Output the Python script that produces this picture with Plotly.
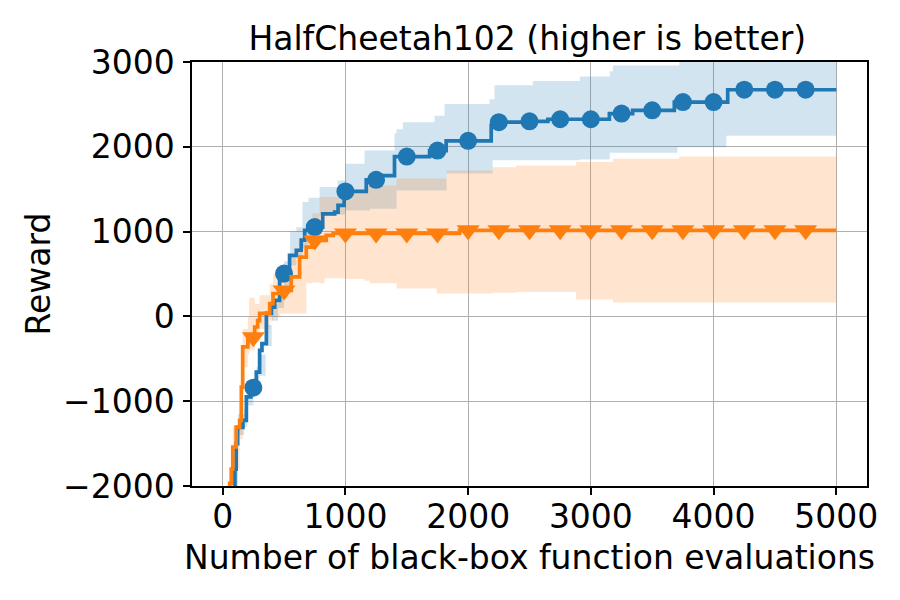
import numpy as np
import plotly.graph_objects as go

# ---- data ----
blue_x = [60, 90, 100, 110, 122, 165, 193, 230, 274, 301, 320, 356, 397, 424, 464, 490,
          545, 600, 640, 668, 700, 815, 912, 940, 990, 1170, 1300, 1400, 1686, 1821,
          2188, 2200, 2450, 2650, 3151, 3340, 3680, 4115, 5000]
blue_y = [-2600, -2300, -1800, -1500, -1310, -1226, -950, -840, -657, -400, -320, 35, 110, 190, 425, 505,
          720, 780, 900, 1015, 1053, 1210, 1230, 1310, 1474, 1610, 1660, 1885, 1955, 2070,
          2250, 2290, 2300, 2325, 2392, 2430, 2527, 2673, 2673]

orange_x = [40, 57, 70, 82, 110, 138, 152, 163, 205, 261, 285, 301, 383, 410, 470, 559,
            627, 681, 730, 844, 900, 1930, 5000]
orange_y = [-2600, -1970, -1800, -1540, -1305, -1225, -834, -360, -245, -125, -50, 35, 150, 270, 306, 465,
            700, 818, 896, 955, 978, 1015, 1015]

blue_band_x = [75, 100, 125, 175, 200, 250, 275, 300, 350, 400, 450, 500, 550, 600, 650, 700,
               790, 936, 1000, 1156, 1200, 1400, 1417, 1468, 1726, 1808, 1824, 2174, 2200, 2215,
               2527, 2910, 3154, 3180, 3705, 3720, 4104, 5000]
blue_band_lo = [-2700, -2100, -1400, -1300, -1050, -920, -800, -700, -350, -50, 100, 350, 600, 700, 800, 950,
                1190, 1200, 1250, 1250, 1270, 1270, 1485, 1485, 1485, 1485, 1685, 1685, 1840, 1840,
                1840, 1850, 1930, 1930, 1995, 1995, 2130, 2130]
blue_band_hi = [-2400, -1800, -1150, -1100, -850, -760, -600, -450, -100, 150, 300, 650, 1000, 1050, 1350, 1400,
                1525, 1604, 1800, 1957, 1957, 2158, 2208, 2290, 2365, 2505, 2505, 2560, 2560, 2725,
                2775, 2830, 2890, 2960, 2960, 3200, 3200, 3200]

orange_band_x = [50, 57, 82, 138, 163, 205, 215, 261, 301, 383, 410, 470, 559, 600, 627, 681,
                 730, 790, 830, 1000, 1156, 1200, 1417, 1743, 1824, 2200, 2390, 2880, 3180, 3720, 5000]
orange_band_lo = [-2800, -2300, -1800, -1450, -600, -450, -400, -300, -150, -50, 0, 35, 35, 35, 35, 390,
                  400, 390, 450, 440, 420, 390, 330, 270, 270, 280, 287, 200, 165, 165, 165]
orange_band_hi = [-2300, -1900, -1300, -1000, -150, 0, 220, 150, 250, 380, 500, 550, 700, 800, 900, 1050,
                  1215, 1407, 1407, 1485, 1545, 1545, 1625, 1625, 1720, 1760, 1780, 1820, 1860, 1885, 1885]

marker_x = [250, 500, 750, 1000, 1250, 1500, 1750, 2000, 2250, 2500, 2750, 3000, 3250, 3500,
            3750, 4000, 4250, 4500, 4750]

x_ticks = [0, 1000, 2000, 3000, 4000, 5000]
y_ticks = [-2000, -1000, 0, 1000, 2000, 3000]
y_tick_text = ["\u22122000", "\u22121000", "0", "1000", "2000", "3000"]

BLUE = "#1f77b4"
ORANGE = "#ff7f0e"
FONT = "DejaVu Sans"
FS = 33


def step_lookup(xs, ys, q):
    xs = np.asarray(xs)
    ys = np.asarray(ys)
    idx = np.searchsorted(xs, q, side="right") - 1
    return ys[idx]


fig = go.Figure()

# bands
for bx, lo, hi, col in [(blue_band_x, blue_band_lo, blue_band_hi, "rgba(31,119,180,0.2)"),
                        (orange_band_x, orange_band_lo, orange_band_hi, "rgba(255,127,14,0.2)")]:
    fig.add_trace(go.Scatter(x=bx, y=lo, mode="lines", line=dict(width=0, shape="hv"),
                             hoverinfo="skip", showlegend=False))
    fig.add_trace(go.Scatter(x=bx, y=hi, mode="lines", line=dict(width=0, shape="hv"),
                             fill="tonexty", fillcolor=col, hoverinfo="skip", showlegend=False))

# lines
fig.add_trace(go.Scatter(x=blue_x, y=blue_y, mode="lines",
                         line=dict(color=BLUE, width=3.7, shape="hv"), showlegend=False))
fig.add_trace(go.Scatter(x=marker_x, y=step_lookup(blue_x, blue_y, marker_x), mode="markers",
                         marker=dict(color=BLUE, size=18, symbol="circle"), showlegend=False))
fig.add_trace(go.Scatter(x=orange_x, y=orange_y, mode="lines",
                         line=dict(color=ORANGE, width=3.7, shape="hv"), showlegend=False))
fig.add_trace(go.Scatter(x=marker_x, y=step_lookup(orange_x, orange_y, marker_x), mode="markers",
                         marker=dict(color=ORANGE, size=20, symbol="triangle-down"), showlegend=False))

axis_common = dict(showline=True, mirror=True, linecolor="black", linewidth=1.5,
                   ticks="outside", ticklen=7, tickwidth=1.5, tickcolor="black",
                   showgrid=True, gridcolor="#b0b0b0", gridwidth=1.3, zeroline=False,
                   tickfont=dict(family=FONT, size=FS, color="black"))

fig.update_layout(
    width=900, height=600,
    paper_bgcolor="white", plot_bgcolor="white",
    margin=dict(l=184, r=41, t=54, b=122),
    title=dict(text="HalfCheetah102 (higher is better)", x=0.577, xanchor="center",
               y=0.95, yanchor="middle",
               font=dict(family=FONT, size=FS, color="black")),
    xaxis=dict(range=[-250, 5250], tickvals=x_ticks, ticklabelstandoff=-6,
               **axis_common),
    yaxis=dict(range=[-2000, 3000], tickvals=y_ticks, ticktext=y_tick_text,
               ticklabelstandoff=2,
               title=dict(text="Reward", standoff=2,
                          font=dict(family=FONT, size=FS, color="black")),
               **axis_common),
    annotations=[dict(text="Number of black-box function evaluations", xref="paper", yref="paper",
                      x=0.5, y=-0.168, xanchor="center", yanchor="middle", showarrow=False,
                      font=dict(family=FONT, size=FS, color="black"))],
)

fig.write_html("out.html")
